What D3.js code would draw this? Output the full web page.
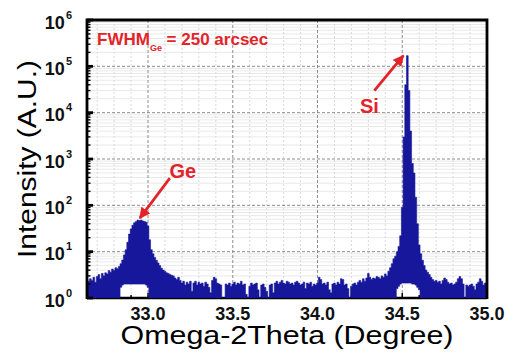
<!DOCTYPE html>
<html>
<head>
<meta charset="utf-8">
<script src="https://cdn.jsdelivr.net/npm/d3@7"></script>
<style>
  body { margin: 0; background: #fff; }
  text { font-family: "Liberation Sans", Arial, Helvetica, sans-serif; }
</style>
</head>
<body>
<svg width="506" height="356"></svg>
<script>
// omega-2theta scan, 0.01 deg steps, counts (0 = no counts)
const scanStart = 32.64;
const scanStep = 0.01;
const countsHigh = [
  2.5, 2.3, 2.6, 2.4, 2.8, 2.2, 2.9, 3.2, 2.6, 3.4,
  3.0, 3.5, 3.3, 3.9, 3.6, 4.2, 3.9, 4.5, 4.3, 4.8,
  5.5, 6.6, 8.5, 11, 16, 24, 31, 37, 42, 45,
  48, 47, 48, 46, 45, 43, 36, 18, 11, 9,
  7.5, 6.5, 5.7, 5.0, 4.4, 4.0, 3.8, 3.5, 3.4, 3.2,
  3.1, 3.0, 2.7, 2.5, 2.8, 2.4, 2.1, 2.3, 1.9, 2.2,
  2.0, 2.3, 1.4, 2.1, 2.3, 1.9, 2.2, 2.0, 2.1, 1.8,
  2.2, 2.0, 1.7, 1.3, 2.4, 2.8, 2.6, 2.1, 2.0, 1.9,
  0, 0, 2.0, 1.9, 2.1, 1.8, 2.0, 2.2, 1.9, 2.1,
  2.0, 2.3, 1.9, 2.0, 1.2, 0, 1.8, 2.1, 1.9, 2.0,
  2.1, 1.5, 0, 1.9, 2.0, 1.7, 1.4, 0, 1.9, 2.0,
  1.3, 2.1, 2.3, 2.0, 2.2, 2.4, 2.1, 2.0, 2.3, 2.2,
  2.0, 2.1, 1.9, 2.2, 2.3, 2.1, 1.9, 2.0, 2.2, 1.6,
  2.1, 2.0, 2.2, 1.8, 2.0, 1.9, 2.1, 2.8, 2.5, 2.0,
  2.1, 1.9, 2.2, 1.5, 1.3, 2.0, 2.1, 1.9, 2.2, 2.0,
  2.6, 2.5, 1.9, 2.0, 1.6, 0, 1.8, 2.0, 2.1, 1.9,
  2.2, 2.4, 2.2, 2.6, 2.3, 2.7, 3.4, 2.8, 2.5, 2.7,
  2.6, 2.9, 2.8, 2.6, 3.0, 2.8, 3.3, 3.0, 3.8, 4.5,
  5.5, 7, 8, 10, 13, 22, 90, 3000, 40000, 170000,
  30000, 4000, 800, 500, 150, 40, 14, 9, 6.5, 5,
  4.0, 3.6, 3.2, 2.8, 2.5, 2.3, 2.4, 2.2, 2.3, 2.0,
  2.4, 2.7, 2.5, 2.2, 2.0, 2.1, 1.9, 2.0, 2.2, 2.6,
  2.9, 2.6, 2.0, 0, 1.9, 1.8, 1.9, 2.0, 1.8, 1.5,
  2.0, 2.2, 2.6, 2.3, 1.9, 2.1, 2.0
];
// lowest counts under the two peaks (elsewhere the noise reaches 0)
const floorGeStart = 32.84;
const floorGe = [1.7, 1.9, 2.0, 2.0, 2.0, 2.0, 2.0, 2.0, 2.0, 2.0, 2.0, 2.0, 2.0, 2.0, 2.0, 1.9, 1.7];
const floorSiStart = 34.47;
const floorSi = [1.6, 1.8, 2.0, 2.1, 2.1, 2.1, 2.1, 2.1, 2.1, 2.0, 2.0, 1.9, 1.7, 1.5];

const xTickValues = [33.0, 33.5, 34.0, 34.5, 35.0];
const yExponents = [0, 1, 2, 3, 4, 5, 6];
const peakNames = ["Ge", "Si"];
const peakAngles = [32.94, 34.53];
const peakCounts = [48, 170000];

const svg = d3.select("svg");
const width = +svg.attr("width");
const height = +svg.attr("height");
const margin = { top: 20, right: 19, bottom: 58, left: 87 };
const innerWidth = width - margin.left - margin.right;
const innerHeight = height - margin.top - margin.bottom;

const red = "#e3232a";
const blue = "#17179c";

const xScale = d3.scaleLinear().domain([scanStart, 35.0]).range([0, innerWidth]);
const yScale = d3.scaleLog().domain([1, 1e6]).range([innerHeight, 0]).clamp(true);

const floorAt = (i) => {
  const a = scanStart + i * scanStep;
  let j = Math.round((a - floorGeStart) / scanStep);
  if (j >= 0 && j < floorGe.length) return floorGe[j];
  j = Math.round((a - floorSiStart) / scanStep);
  if (j >= 0 && j < floorSi.length) return floorSi[j];
  return 0;
};
const scan = countsHigh.map((c, i) => ({
  angle: scanStart + i * scanStep,
  hi: c,
  lo: floorAt(i),
}));

const g = svg.append("g").attr("transform", `translate(${margin.left},${margin.top})`);

const defs = svg.append("defs");
defs.append("clipPath").attr("id", "plot")
  .append("rect").attr("width", innerWidth).attr("height", innerHeight);

// grid
const isMajorX = (d) => xTickValues.some((t) => Math.abs(t - d) < 1e-6);
const isDecade = (d) => Math.abs(Math.log10(d) % 1) < 1e-6;
const minorX = xScale.ticks(25).filter((d) => !isMajorX(d));
const minorY = yScale.ticks().filter((d) => !isDecade(d));
const majorY = yExponents.slice(1, -1).map((e) => Math.pow(10, e));

g.append("g").selectAll("line").data(minorX).join("line")
  .attr("x1", (d) => xScale(d)).attr("x2", (d) => xScale(d))
  .attr("y1", 0).attr("y2", innerHeight)
  .attr("stroke", "#c8c8c8").attr("stroke-width", 0.7).attr("stroke-dasharray", "2,2");
g.append("g").selectAll("line").data(minorY).join("line")
  .attr("x1", 0).attr("x2", innerWidth)
  .attr("y1", (d) => yScale(d)).attr("y2", (d) => yScale(d))
  .attr("stroke", "#dadada").attr("stroke-width", 0.6);
g.append("g").selectAll("line").data(xTickValues.slice(0, -1)).join("line")
  .attr("x1", (d) => xScale(d)).attr("x2", (d) => xScale(d))
  .attr("y1", 0).attr("y2", innerHeight)
  .attr("stroke", "#808080").attr("stroke-width", 0.9).attr("stroke-dasharray", "3,2");
g.append("g").selectAll("line").data(majorY).join("line")
  .attr("x1", 0).attr("x2", innerWidth)
  .attr("y1", (d) => yScale(d)).attr("y2", (d) => yScale(d))
  .attr("stroke", "#808080").attr("stroke-width", 0.9).attr("stroke-dasharray", "3,2");

// bottom axis line and ticks (data covers most of it)
g.append("line").attr("x1", 0).attr("x2", innerWidth)
  .attr("y1", innerHeight).attr("y2", innerHeight)
  .attr("stroke", "#000").attr("stroke-width", 2.5);
g.append("g").selectAll("line").data(xScale.ticks(25)).join("line")
  .attr("x1", (d) => xScale(d)).attr("x2", (d) => xScale(d))
  .attr("y1", innerHeight)
  .attr("y2", (d) => innerHeight - (isMajorX(d) ? 5 : 3))
  .attr("stroke", "#000").attr("stroke-width", 1.5);

// data
const area = d3.area()
  .curve(d3.curveStep)
  .x((d) => xScale(d.angle))
  .y0((d) => yScale(Math.max(d.lo, 1)))
  .y1((d) => yScale(Math.max(d.hi, 1)));
g.append("path").datum(scan)
  .attr("clip-path", "url(#plot)")
  .attr("d", area)
  .attr("fill", blue)
  .attr("stroke", blue)
  .attr("stroke-width", 0.6);

// frame left / top / right
g.append("path")
  .attr("d", `M0,${innerHeight + 1}V0H${innerWidth}V${innerHeight + 1}`)
  .attr("fill", "none").attr("stroke", "#000").attr("stroke-width", 2.8);

// left ticks
g.append("g").selectAll("line").data(yScale.ticks()).join("line")
  .attr("x1", 0)
  .attr("x2", (d) => (isDecade(d) ? 6 : 3.5))
  .attr("y1", (d) => yScale(d)).attr("y2", (d) => yScale(d))
  .attr("stroke", "#000")
  .attr("stroke-width", (d) => (isDecade(d) ? 2.8 : 1.4));

// y tick labels 10^n
const yLab = g.append("g").selectAll("text").data(yExponents).join("text")
  .attr("x", -15)
  .attr("y", (e) => yScale(Math.pow(10, e)) + 8.5)
  .attr("text-anchor", "end")
  .attr("font-size", 18).attr("font-weight", "bold").attr("fill", "#111");
yLab.append("tspan").text("10");
yLab.append("tspan").text((e) => e)
  .attr("font-size", 11).attr("dx", 1).attr("dy", -10);

// x tick labels
g.append("g").selectAll("text").data(xTickValues).join("text")
  .attr("x", (d) => xScale(d))
  .attr("y", innerHeight + 22)
  .attr("text-anchor", "middle")
  .attr("font-size", 18).attr("font-weight", "bold").attr("fill", "#111")
  .text((d) => d3.format(".1f")(d));

// axis titles
g.append("text")
  .attr("x", innerWidth / 2).attr("y", innerHeight + 46)
  .attr("text-anchor", "middle")
  .attr("font-size", 25)
  .attr("textLength", 333).attr("lengthAdjust", "spacingAndGlyphs")
  .text("Omega-2Theta (Degree)");
g.append("text")
  .attr("transform", `translate(${-51},${innerHeight / 2}) rotate(-90)`)
  .attr("text-anchor", "middle")
  .attr("font-size", 25)
  .attr("textLength", 198).attr("lengthAdjust", "spacingAndGlyphs")
  .text("Intensity (A.U.)");

// FWHM note
const note = g.append("text").attr("x", 10).attr("y", 25)
  .attr("font-size", 17).attr("font-weight", "bold").attr("fill", red);
note.append("tspan").text("FWHM");
note.append("tspan").text("Ge").attr("font-size", 9).attr("dy", 6);
note.append("tspan").text(" = 250 arcsec").attr("font-size", 17).attr("dy", -6);

// peak arrows
defs.append("marker").attr("id", "head")
  .attr("viewBox", "0 0 10 10").attr("refX", 9).attr("refY", 5)
  .attr("markerWidth", 4).attr("markerHeight", 4)
  .attr("markerUnits", "strokeWidth").attr("orient", "auto")
  .append("path").attr("d", "M0,0L10,5L0,10z").attr("fill", red);

const arrowTips = [[2, -2], [-4, 0]];
const arrowTails = [[30, -40], [-29, 35]];
const labelShift = [[45, -42], [-38, 57]];
peakNames.forEach((name, i) => {
  const px = xScale(peakAngles[i]);
  const py = yScale(peakCounts[i]);
  const tx = px + arrowTips[i][0];
  const ty = py + arrowTips[i][1];
  g.append("line")
    .attr("x1", tx + arrowTails[i][0]).attr("y1", ty + arrowTails[i][1])
    .attr("x2", tx).attr("y2", ty)
    .attr("stroke", red).attr("stroke-width", 2.8)
    .attr("marker-end", "url(#head)");
  g.append("text")
    .attr("x", px + labelShift[i][0]).attr("y", py + labelShift[i][1])
    .attr("text-anchor", "middle")
    .attr("font-size", 20).attr("font-weight", "bold").attr("fill", red)
    .text(name);
});
</script>
</body>
</html>
